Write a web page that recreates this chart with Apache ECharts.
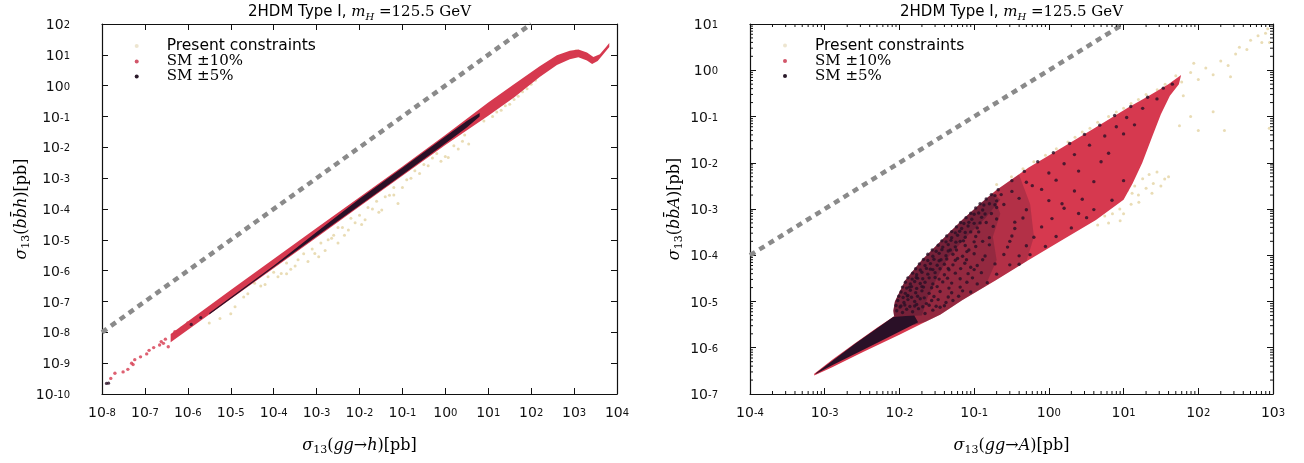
<!DOCTYPE html>
<html>
<head>
<meta charset="utf-8">
<title>2HDM Type I, bbh / bbA versus gluon fusion</title>
<script src="https://cdn.jsdelivr.net/npm/echarts@6.0.0/dist/echarts.min.js"></script>
<style>
  html, body { margin: 0; padding: 0; background: #fff; }
  #chart { width: 1304px; height: 463px; }
</style>
</head>
<body>
<div id="chart"></div>
<script>
// ---------- axis ranges ----------
const leftXRange = [1e-8, 1e4];
const leftYRange = [1e-10, 1e2];
const rightXRange = [1e-4, 1e3];
const rightYRange = [1e-7, 1e1];

const seriesNames = ['Present constraints', 'SM \u00b110%', 'SM \u00b15%'];

// ---------- left panel: sigma13(gg->h) vs sigma13(bbh) ----------
const hDiagonal = [[1e-8, 1e-8], [1e2, 1e2]];

// outline of the dense SM±10% band (upper edge, lower edge; left to right)
const hRedUpper = [[3.98e-7, 8.91e-9], [1e-5, 2.34e-7], [1e-4, 2.4e-6], [1e-3, 2.4e-5], [1e-2, 2.4e-4],
  [0.1, 2.4e-3], [1, 2.51e-2], [10, 0.282], [39.8, 1.12], [158, 4.27], [398, 9.77], [794, 13.5],
  [1259, 14.8], [1995, 12.0], [2818, 8.5], [3981, 10.5], [5623, 18.2], [6607, 24.0]];
const hRedLower = [[3.98e-7, 4.79e-9], [1e-5, 1.2e-7], [1e-4, 1.2e-6], [1e-3, 1.2e-5], [1e-2, 1.2e-4],
  [0.1, 1.2e-3], [1, 1.2e-2], [10, 0.105], [39.8, 0.417], [158, 1.91], [398, 4.68], [794, 7.24],
  [1259, 8.32], [1995, 6.61], [2630, 5.01], [3548, 6.31], [5012, 11.2], [6607, 17.8]];
// isolated SM±10% points at the low end
const hRedScatter = [[1.6e-8, 3.2e-10], [2.0e-8, 4.7e-10], [3.1e-8, 5.2e-10], [4.0e-8, 6.3e-10],
  [4.9e-8, 1.0e-9], [5.8e-8, 1.3e-9], [5.3e-8, 9.0e-10], [7.9e-8, 1.6e-9], [1.1e-7, 2.0e-9],
  [1.25e-7, 2.6e-9], [1.6e-7, 3.2e-9], [2.2e-7, 3.9e-9], [2.7e-7, 4.4e-9], [2.4e-7, 5.0e-9],
  [3.5e-7, 3.4e-9], [3.0e-7, 6.0e-9], [5.0e-7, 1.05e-8], [6.0e-7, 1.0e-8], [7.1e-7, 1.35e-8],
  [8.5e-7, 1.5e-8], [1.0e-6, 2.0e-8], [1.2e-6, 2.2e-8], [1.5e-6, 2.8e-8], [1.8e-6, 3.1e-8],
  [2.2e-6, 4.1e-8], [2.6e-6, 4.5e-8]];
// outline of the SM±5% core
const hDarkUpper = [[3.16e-6, 4.2e-8], [1e-4, 1.45e-6], [1e-3, 1.78e-5], [1e-2, 2.14e-4],
  [0.1, 2.19e-3], [1, 2.24e-2], [3.16, 7.2e-2], [6.3, 0.13]];
const hDarkLower = [[3.16e-6, 3.8e-8], [1e-4, 1.3e-6], [1e-3, 1.3e-5], [1e-2, 1.3e-4],
  [0.1, 1.3e-3], [1, 1.32e-2], [3.16, 4.4e-2], [6.3, 0.1]];
const hDarkScatter = [[1.27e-8, 2.2e-10], [1.42e-8, 2.25e-10], [1.2e-6, 1.8e-8], [2.0e-6, 3.0e-8]];
// points allowed by present constraints only
const hTan = [[3.16e-6, 2.0e-8], [5.6e-6, 2.8e-8], [1.0e-5, 4.0e-8], [1.26e-5, 6.8e-8], [2.0e-5, 1.4e-7],
  [3.6e-5, 3.9e-7], [5.0e-5, 3.2e-7], [7.4e-5, 6.3e-7], [1.0e-4, 8.9e-7], [1.5e-4, 8.1e-7],
  [2.0e-4, 1.78e-6], [2.5e-4, 1.12e-6], [3.7e-4, 2.24e-6], [5.0e-4, 3.55e-6], [6.3e-4, 2.0e-6],
  [9.1e-4, 3.6e-6], [1.26e-3, 7.9e-6], [1.58e-3, 4.5e-6], [1.86e-3, 1.0e-5], [2.5e-3, 1.4e-5],
  [3.16e-3, 7.9e-6], [4.0e-3, 2.5e-5], [5.5e-3, 2.1e-5], [7.9e-3, 3.55e-5], [1.0e-2, 6.3e-5],
  [1.35e-2, 4.5e-5], [2.0e-2, 1.0e-4], [2.5e-2, 1.78e-4], [3.3e-2, 9.3e-5], [5.0e-2, 2.8e-4],
  [6.3e-2, 5.0e-4], [7.9e-2, 1.5e-4], [0.126, 8.9e-4], [0.195, 1.74e-3], [0.316, 2.8e-3],
  [0.5, 4.5e-3], [0.79, 3.55e-3], [1.17, 4.7e-3], [2.0, 8.9e-3], [3.5, 1.29e-2],
  [2.5e-5, 1.78e-7], [6.3e-5, 3.55e-7], [1.26e-4, 6.3e-7], [3.16e-4, 1.41e-6], [7.9e-4, 5.0e-6],
  [1.12e-3, 2.82e-6], [2.24e-3, 1.12e-5], [4.47e-3, 1.41e-5], [6.3e-3, 5.0e-5], [1.12e-2, 3.16e-5],
  [1.58e-2, 1.12e-4], [2.82e-2, 7.9e-5], [3.98e-2, 2.51e-4], [0.1, 5.0e-4], [0.158, 1.0e-3],
  [0.251, 1.41e-3], [0.398, 2.51e-3], [0.631, 6.3e-3], [1.0, 5.0e-3], [1.58, 1.12e-2],
  [2.51, 1.58e-2], [2.82, 2.51e-2], [2.0e-4, 7.9e-7], [3.16e-3, 2.51e-5], [6.3e-2, 2.82e-4],
  [7.9, 0.071], [12.6, 0.1], [15.8, 0.141], [20, 0.158], [25, 0.224], [31.6, 0.25], [40, 0.355],
  [50, 0.45], [63, 0.63], [80, 0.8], [100, 1.12], [126, 1.5],
  [794, 10.5], [1000, 12.0], [1122, 9.5], [1413, 11.0], [891, 8.9], [1259, 12.6], [1100, 13.5], [950, 11.5]];

// ---------- right panel: sigma13(gg->A) vs sigma13(bbA) ----------
const aDiagonal = [[1e-4, 1e-4], [1e1, 1e1]];

// outline of the SM±10% region (tail, upper-left lobe, tip, lower edge)
const aRedOutline = [[7.24e-4, 2.75e-7], [1.26e-3, 5.5e-7], [2.57e-3, 1.26e-6], [5.0e-3, 2.69e-6],
  [8.5e-3, 4.8e-6], [8.3e-3, 6.3e-6], [8.7e-3, 1.0e-5], [1.0e-2, 1.58e-5], [1.2e-2, 2.88e-5],
  [1.58e-2, 5.0e-5], [2.0e-2, 7.9e-5], [3.7e-2, 2.14e-4], [6.9e-2, 5.75e-4], [0.126, 1.38e-3],
  [0.195, 2.5e-3], [0.537, 7.9e-3], [1.51, 2.14e-2], [4.27, 5.89e-2], [11.7, 0.158], [21.9, 0.282],
  [39.8, 0.5], [58.9, 0.794], [55, 0.5], [41.7, 0.282], [31.6, 0.112], [24, 3.55e-2], [17.8, 1.0e-2],
  [13.2, 3.55e-3], [10, 1.58e-3], [4.27, 5.75e-4], [1.51, 2.14e-4], [0.537, 7.9e-5], [0.195, 2.88e-5],
  [6.9e-2, 1.07e-5], [3.55e-2, 5.25e-6], [2.24e-2, 3.63e-6], [1.0e-2, 1.9e-6], [3.16e-3, 7.9e-7],
  [1.26e-3, 3.8e-7], [7.24e-4, 2.5e-7]];
// SM±5% tail, densely filled
const aDarkTail = [[7.6e-4, 2.82e-7], [2.57e-3, 1.23e-6], [8.3e-3, 4.68e-6], [1.58e-2, 5.0e-6],
  [1.78e-2, 3.55e-6], [5.0e-3, 1.26e-6], [1.26e-3, 4.17e-7], [7.6e-4, 2.69e-7]];
// SM±5% crowding in the lobe, from sparse (wide) to dense (along the upper-left edge)
const aLobeEdgeLeft = [[8.5e-3, 4.8e-6], [8.3e-3, 6.3e-6], [8.7e-3, 1.0e-5], [1.0e-2, 1.58e-5], [1.2e-2, 2.88e-5],
  [1.58e-2, 5.0e-5], [2.0e-2, 7.9e-5], [3.7e-2, 2.14e-4], [6.9e-2, 5.75e-4], [0.126, 1.38e-3]];
const aLobeLowerEdge = [[0.195, 2.88e-5], [6.9e-2, 1.07e-5], [3.55e-2, 5.25e-6], [2.24e-2, 3.63e-6], [1.58e-2, 3.16e-6]];
const aDarkWide = aLobeEdgeLeft.concat([[0.195, 2.5e-3], [0.398, 5.6e-3], [0.562, 1.26e-3], [0.631, 2.51e-4],
  [0.501, 7.4e-5], [0.195, 2.88e-5]], aLobeLowerEdge.slice(1));
const aDarkMid = aLobeEdgeLeft.concat([[0.178, 2.19e-3], [0.224, 7.9e-4], [0.178, 2.51e-4], [0.2, 7.9e-5],
  [0.141, 2.14e-5]], aLobeLowerEdge.slice(1));
const aDarkEdge = aLobeEdgeLeft.concat([[0.178, 2.19e-3], [0.224, 1.58e-3], [0.141, 6.3e-4], [7.9e-2, 2.5e-4],
  [4.47e-2, 8.9e-5], [3.16e-2, 3.16e-5], [2.4e-2, 1.26e-5], [2.0e-2, 5.0e-6]]);
// SM±5% points inside the lobe
const aDarkScatter = [
  [9.2e-3, 6.3e-6], [1.1e-2, 5.8e-6], [1.25e-2, 6.8e-6], [1.5e-2, 6.0e-6], [1.8e-2, 7.0e-6], [2.2e-2, 5.5e-6], [2.8e-2, 6.5e-6], [3.5e-2, 7.5e-6],
  [9.5e-3, 1.05e-5], [1.15e-2, 9.5e-6], [1.3e-2, 1.1e-5], [1.6e-2, 1.0e-5], [1.9e-2, 1.15e-5], [2.3e-2, 9.0e-6], [2.7e-2, 1.05e-5], [3.3e-2, 1.1e-5], [4.2e-2, 9.5e-6], [5.2e-2, 1.05e-5],
  [1.05e-2, 1.6e-5], [1.2e-2, 1.5e-5], [1.4e-2, 1.75e-5], [1.65e-2, 1.55e-5], [2.0e-2, 1.7e-5], [2.5e-2, 1.5e-5], [3.5e-2, 1.65e-5], [5.0e-2, 1.55e-5], [7.0e-2, 1.7e-5], [9.0e-2, 1.6e-5],
  [1.2e-2, 2.6e-5], [1.4e-2, 2.4e-5], [1.6e-2, 2.7e-5], [1.9e-2, 2.45e-5], [2.2e-2, 2.6e-5], [2.8e-2, 2.4e-5], [3.8e-2, 2.65e-5], [5.0e-2, 2.5e-5], [8.0e-2, 2.6e-5], [0.11, 2.4e-5], [0.15, 2.55e-5],
  [1.5e-2, 4.1e-5], [1.7e-2, 3.8e-5], [2.0e-2, 4.3e-5], [2.4e-2, 3.9e-5], [3.0e-2, 4.2e-5], [4.0e-2, 3.8e-5], [5.6e-2, 4.1e-5], [8.3e-2, 4.0e-5], [0.125, 4.2e-5], [0.2, 3.9e-5],
  [1.85e-2, 6.5e-5], [2.2e-2, 6.0e-5], [2.6e-2, 6.6e-5], [3.2e-2, 6.1e-5], [4.0e-2, 6.4e-5], [5.2e-2, 6.2e-5], [7.5e-2, 6.7e-5], [0.11, 6.0e-5], [0.19, 6.5e-5], [0.3, 6.2e-5], [0.4, 6.4e-5],
  [2.4e-2, 1.05e-4], [2.8e-2, 9.5e-5], [3.4e-2, 1.1e-4], [4.2e-2, 9.8e-5], [5.2e-2, 1.05e-4], [7.0e-2, 9.5e-5], [0.1, 1.08e-4], [0.14, 9.6e-5], [0.25, 1.04e-4], [0.4, 9.7e-5], [0.56, 1.03e-4],
  [3.3e-2, 1.65e-4], [3.8e-2, 1.5e-4], [4.5e-2, 1.7e-4], [5.6e-2, 1.52e-4], [7.6e-2, 1.62e-4], [0.105, 1.55e-4], [0.16, 1.68e-4], [0.28, 1.5e-4], [0.5, 1.6e-4], [0.9, 1.55e-4],
  [4.3e-2, 2.6e-4], [5.0e-2, 2.4e-4], [6.0e-2, 2.7e-4], [7.6e-2, 2.45e-4], [0.105, 2.55e-4], [0.16, 2.4e-4], [0.32, 2.6e-4], [0.63, 2.45e-4], [1.25, 2.55e-4],
  [5.8e-2, 4.1e-4], [6.8e-2, 3.8e-4], [8.3e-2, 4.3e-4], [0.11, 3.9e-4], [0.18, 4.2e-4], [0.35, 3.8e-4], [0.8, 4.1e-4], [2.0, 3.9e-4],
  [7.8e-2, 6.5e-4], [9.3e-2, 6.0e-4], [0.126, 6.6e-4], [0.2, 6.1e-4], [0.45, 6.4e-4], [1.1, 6.2e-4], [3.2, 6.5e-4],
  [0.105, 1.05e-3], [0.13, 9.5e-4], [0.2, 1.08e-3], [0.5, 9.6e-4], [1.6, 1.04e-3], [4.0, 9.7e-4],
  [0.145, 1.65e-3], [0.2, 1.5e-3], [0.4, 1.7e-3], [1.0, 1.52e-3], [2.8, 1.62e-3], [7.0, 1.55e-3],
  [0.21, 2.6e-3], [0.32, 2.4e-3], [0.8, 2.65e-3], [2.2, 2.45e-3],
  [0.32, 4.1e-3], [0.5, 3.8e-3], [1.25, 4.2e-3], [4.0, 3.9e-3], [10, 4.1e-3],
  [0.47, 6.5e-3], [1.0, 6.0e-3], [2.5, 6.6e-3],
  [0.71, 1.05e-2], [1.6, 9.5e-3], [5.0, 1.05e-2],
  [1.15, 1.65e-2], [2.2, 1.5e-2], [6.3, 1.6e-2],
  [1.9, 2.6e-2], [3.5, 2.4e-2],
  [3.0, 4.1e-2], [5.6, 3.8e-2], [10, 4.2e-2],
  [4.8, 6.5e-2], [8.0, 6.0e-2], [14, 6.6e-2],
  [7.6, 0.105], [11, 9.5e-2], [12.5, 0.165], [18, 0.15], [21, 0.26], [28, 0.24], [34, 0.41], [45, 0.5],
  [1.35e-2, 2.05e-5], [1.75e-2, 3.2e-5], [2.6e-2, 5.0e-5], [3.6e-2, 8.0e-5], [4.8e-2, 1.3e-4],
  [6.5e-2, 2.0e-4], [9.0e-2, 3.2e-4], [0.12, 5.0e-4], [0.17, 8.0e-4], [1.05e-2, 8.0e-6],
  [1.3e-2, 1.35e-5], [2.0e-2, 2.1e-5], [1.6e-2, 8.0e-6], [3.0e-2, 3.3e-5], [4.5e-2, 5.2e-5],
  [6.0e-2, 8.5e-5], [8.5e-2, 1.3e-4], [0.13, 2.0e-4], [0.09, 5.5e-5], [0.13, 8.0e-5], [0.3, 2.0e-4],
  [0.25, 1.25e-3], [0.6, 3.2e-3], [1.5, 1.3e-3], [0.35, 5.2e-4], [2.5, 8.0e-4],
  [9.0e-3, 8.2e-6], [1.02e-2, 7.6e-6], [1.18e-2, 8.4e-6], [1.38e-2, 7.8e-6], [1.7e-2, 8.6e-6], [2.05e-2, 7.7e-6], [2.5e-2, 8.3e-6], [3.1e-2, 7.9e-6], [4.0e-2, 8.1e-6],
  [9.8e-3, 1.3e-5], [1.12e-2, 1.22e-5], [1.27e-2, 1.32e-5], [1.45e-2, 1.24e-5], [1.75e-2, 1.3e-5], [2.15e-2, 1.2e-5], [2.9e-2, 1.28e-5], [4.5e-2, 1.25e-5], [6.2e-2, 1.3e-5],
  [1.1e-2, 2.05e-5], [1.25e-2, 1.95e-5], [1.45e-2, 2.1e-5], [1.7e-2, 1.92e-5], [2.1e-2, 2.05e-5], [2.7e-2, 1.98e-5], [3.2e-2, 2.1e-5], [4.6e-2, 1.95e-5], [6.5e-2, 2.05e-5],
  [1.3e-2, 3.25e-5], [1.48e-2, 3.05e-5], [1.68e-2, 3.3e-5], [2.05e-2, 3.1e-5], [2.5e-2, 3.25e-5], [3.4e-2, 3.05e-5], [4.4e-2, 3.2e-5], [6.5e-2, 3.1e-5], [9.5e-2, 3.25e-5],
  [1.65e-2, 5.1e-5], [1.9e-2, 4.8e-5], [2.3e-2, 5.2e-5], [2.8e-2, 4.9e-5], [3.5e-2, 5.1e-5], [4.6e-2, 4.85e-5], [6.6e-2, 5.15e-5], [0.1, 4.9e-5],
  [2.1e-2, 8.1e-5], [2.4e-2, 7.7e-5], [2.9e-2, 8.2e-5], [3.4e-2, 7.6e-5], [4.3e-2, 8.3e-5], [5.6e-2, 7.8e-5], [7.9e-2, 8.0e-5],
  [2.75e-2, 1.3e-4], [3.1e-2, 1.22e-4], [3.7e-2, 1.32e-4], [4.5e-2, 1.24e-4], [5.8e-2, 1.3e-4], [8.0e-2, 1.2e-4],
  [3.7e-2, 2.05e-4], [4.2e-2, 1.95e-4], [4.9e-2, 2.1e-4], [5.7e-2, 1.92e-4], [7.2e-2, 2.05e-4], [0.1, 1.95e-4],
  [5.0e-2, 3.25e-4], [5.6e-2, 3.05e-4], [6.4e-2, 3.3e-4], [7.6e-2, 3.1e-4], [0.115, 3.2e-4],
  [6.6e-2, 5.1e-4], [7.3e-2, 4.85e-4], [8.5e-2, 5.15e-4], [0.1, 4.9e-4], [0.145, 5.1e-4],
  [9.0e-2, 8.1e-4], [0.1, 7.7e-4], [0.115, 8.2e-4], [0.14, 7.8e-4],
  [0.12, 1.3e-3], [0.135, 1.22e-3], [0.16, 1.3e-3], [0.19, 1.24e-3],
  [0.17, 2.05e-3], [0.19, 1.95e-3], [0.23, 2.05e-3]];
// points allowed by present constraints only
const aTan = [[0.316, 5.0e-3], [0.63, 1.05e-2], [1.26, 2.0e-2], [2.24, 3.55e-2], [3.55, 5.6e-2],
  [6.3, 0.1], [10, 0.151], [15.8, 0.234], [28.2, 0.38], [50, 0.76], [0.2, 3.4e-3], [0.45, 7.4e-3],
  [0.9, 1.45e-2], [1.8, 2.8e-2], [2.8, 4.6e-2], [4.5, 7.5e-2], [8, 0.125], [12.6, 0.19], [20, 0.3], [36, 0.5],
  [11.2, 2.5e-3], [14.1, 3.16e-3], [15.8, 2.0e-3], [20, 2.82e-3], [25, 3.55e-3], [31.6, 3.16e-3],
  [35.5, 4.47e-3], [12.6, 1.26e-3], [8.9, 1.0e-3], [7.1, 7.9e-4], [5.6, 7.1e-4], [10, 7.9e-4],
  [18, 4.5e-3], [22, 5.6e-3], [28, 6.3e-3], [40, 5.0e-3], [16, 1.4e-3], [6.3, 5.0e-4], [4.5, 4.5e-4],
  [9, 5.6e-4], [13, 2.2e-3], [24, 2.2e-3],
  [100, 0.63], [126, 1.12], [158, 0.8], [200, 1.58], [251, 1.26], [316, 2.24], [355, 3.16], [447, 2.82],
  [501, 4.47], [631, 5.6], [708, 3.98], [794, 6.3], [87, 1.41], [270, 0.72], [60, 0.56], [79, 0.89],
  [79, 0.1], [100, 0.05], [224, 0.05], [891, 0.056], [56, 0.063], [158, 0.126], [63, 0.28], [850, 7.9], [900, 4.0]];

// ---------- styling ----------
const C = { tan: '#e4d3a3', red: '#d6394f', dark: '#2a1027', diag: '#8a8a8a', ink: '#111' };
const FRAME = { left: [102, 24, 515, 370], right: [750, 24, 523, 370] };

const tickRich = {
  b: { fontFamily: 'DejaVu Sans', fontSize: 14, lineHeight: 17, verticalAlign: 'bottom', color: C.ink },
  s: { fontFamily: 'DejaVu Sans', fontSize: 10, lineHeight: 11, padding: [5, 0, 9, 0], verticalAlign: 'top', color: C.ink }
};
const mathRich = {
  i: { fontFamily: 'DejaVu Serif', fontStyle: 'italic', fontSize: 16, lineHeight: 20, color: '#000' },
  r: { fontFamily: 'DejaVu Serif', fontSize: 16, lineHeight: 20, color: '#000' },
  sub: { fontFamily: 'DejaVu Serif', fontSize: 11, lineHeight: 12, verticalAlign: 'bottom', color: '#000' }
};
const powLabel = v => '{b|10}{s|' + Math.round(Math.log10(v)) + '}';

function xAxisCfg(grid, range, position, labels, name) {
  return {
    type: 'log', logBase: 10, gridIndex: grid, min: range[0], max: range[1], interval: 1, position,
    axisLine: { show: true, onZero: false, lineStyle: { color: C.ink, width: 1.2 } },
    axisTick: { show: true, inside: true, length: 6, lineStyle: { color: C.ink, width: 1 } },
    axisLabel: { show: labels, margin: 9, formatter: powLabel, rich: tickRich },
    splitLine: { show: false }, minorTick: { show: false },
    name: name || '', nameLocation: 'middle', nameGap: 42, nameTextStyle: { rich: mathRich }
  };
}
function yAxisCfg(grid, range, position, labels, name, gap) {
  return {
    type: 'log', logBase: 10, gridIndex: grid, min: range[0], max: range[1], interval: 1, position,
    axisLine: { show: true, onZero: false, lineStyle: { color: C.ink, width: 1.2 } },
    axisTick: { show: true, inside: true, length: 6, lineStyle: { color: C.ink, width: 1 } },
    axisLabel: { show: labels, margin: 32, formatter: powLabel, rich: tickRich },
    splitLine: { show: false }, minorTick: { show: false },
    name: name || '', nameLocation: 'middle', nameGap: gap || 0, nameRotate: 90, nameTextStyle: { rich: mathRich }
  };
}

// filled outline drawn through the axis scales
function regionSeries(name, outline, color, axis, z, opacity) {
  return {
    name, type: 'custom', coordinateSystem: 'cartesian2d', xAxisIndex: axis, yAxisIndex: axis,
    z, silent: true, data: outline, encode: { x: 0, y: 1 },
    renderItem(params, api) {
      if (params.dataIndex !== 0) return null;
      return { type: 'polygon', shape: { points: outline.map(p => api.coord(p)) },
        style: { fill: color, opacity: opacity == null ? 1 : opacity } };
    }
  };
}
function dotSeries(name, data, color, axis, size, z) {
  return { name, type: 'scatter', xAxisIndex: axis, yAxisIndex: axis, data, z, symbol: 'circle',
    symbolSize: size, itemStyle: { color }, silent: true };
}
function diagonalSeries(data, axis) {
  return { name: 'y = x', type: 'line', xAxisIndex: axis, yAxisIndex: axis, data, z: 5, symbol: 'none',
    silent: true, lineStyle: { color: C.diag, width: 4.5, type: [6, 5], cap: 'butt' } };
}
// logarithmic minor ticks (2..9 per decade), mirrored on both sides of the frame
function decadeMinors(range) {
  const out = [];
  for (let e = Math.round(Math.log10(range[0])); e < Math.round(Math.log10(range[1])); e++)
    for (let k = 2; k <= 9; k++) out.push(k * Math.pow(10, e));
  return out;
}
function minorTickSeries(axis, dir, values, other) {
  return {
    type: 'custom', coordinateSystem: 'cartesian2d', xAxisIndex: axis, yAxisIndex: axis, z: 6, silent: true,
    data: values.map(v => dir === 'x' ? [v, other[0]] : [other[0], v]),
    renderItem(params, api) {
      const v = api.value(dir === 'x' ? 0 : 1);
      const a = api.coord(dir === 'x' ? [v, other[0]] : [other[0], v]);
      const b = api.coord(dir === 'x' ? [v, other[1]] : [other[1], v]);
      const L = 3;
      const segs = dir === 'x'
        ? [[a[0], a[1], a[0], a[1] - L], [b[0], b[1], b[0], b[1] + L]]
        : [[a[0], a[1], a[0] + L, a[1]], [b[0], b[1], b[0] - L, b[1]]];
      return { type: 'group', children: segs.map(s => ({ type: 'line',
        shape: { x1: s[0], y1: s[1], x2: s[2], y2: s[3] }, style: { stroke: C.ink, lineWidth: 1 } })) };
    }
  };
}

const legendRich = {
  p: { fontFamily: 'DejaVu Sans', fontSize: 15.5, lineHeight: 24, color: '#000', padding: [0, 0, 0, 23] },
  m: { fontFamily: 'DejaVu Serif', fontSize: 15, lineHeight: 24, color: '#000', padding: [0, 0, 0, 23] }
};
function legendCfg(left, top) {
  return {
    orient: 'vertical', left, top, itemGap: 0, itemWidth: 4, itemHeight: 4, selectedMode: false,
    data: [
      { name: seriesNames[0], icon: 'circle', itemStyle: { color: '#e9dfc4' } },
      { name: seriesNames[1], icon: 'circle', itemStyle: { color: '#d2566a' } },
      { name: seriesNames[2], icon: 'circle', itemStyle: { color: '#2a1a2a' } }
    ],
    formatter: n => (n === seriesNames[0] ? '{p|' : '{m|') + n + '}',
    textStyle: { rich: legendRich }
  };
}
const titleText = '{s|2HDM Type I, }{m|m}{h|H}{t| =125.5 GeV}';
const titleRich = {
  s: { fontFamily: 'DejaVu Sans', fontSize: 15, lineHeight: 20, fill: '#000' },
  m: { fontFamily: 'DejaVu Serif', fontStyle: 'italic', fontSize: 15, lineHeight: 20, fill: '#000' },
  h: { fontFamily: 'DejaVu Serif', fontStyle: 'italic', fontSize: 10, lineHeight: 11, verticalAlign: 'bottom', fill: '#000' },
  t: { fontFamily: 'DejaVu Serif', fontSize: 15, lineHeight: 20, fill: '#000' }
};
function titleEl(cx) {
  return { type: 'text', x: cx, y: 12, silent: true,
    style: { text: titleText, align: 'center', verticalAlign: 'middle', rich: titleRich } };
}

const option = {
  animation: false,
  backgroundColor: '#fff',
  grid: [
    { left: FRAME.left[0], top: FRAME.left[1], width: FRAME.left[2], height: FRAME.left[3] },
    { left: FRAME.right[0], top: FRAME.right[1], width: FRAME.right[2], height: FRAME.right[3] }
  ],
  xAxis: [
    xAxisCfg(0, leftXRange, 'bottom', true, '{i|\u03c3}{sub|13}{r|(}{i|gg}{r|\u2192}{i|h}{r|)[pb]}'),
    xAxisCfg(1, rightXRange, 'bottom', true, '{i|\u03c3}{sub|13}{r|(}{i|gg}{r|\u2192}{i|A}{r|)[pb]}'),
    xAxisCfg(0, leftXRange, 'top', false),
    xAxisCfg(1, rightXRange, 'top', false)
  ],
  yAxis: [
    yAxisCfg(0, leftYRange, 'left', true, '{i|\u03c3}{sub|13}{r|(}{i|bb\u0304h}{r|)[pb]}', 69),
    yAxisCfg(1, rightYRange, 'left', true, '{i|\u03c3}{sub|13}{r|(}{i|bb\u0304A}{r|)[pb]}', 65),
    yAxisCfg(0, leftYRange, 'right', false),
    yAxisCfg(1, rightYRange, 'right', false)
  ],
  legend: [legendCfg(129.7, 33), legendCfg(778, 32.5)],
  graphic: [titleEl(FRAME.left[0] + FRAME.left[2] / 2), titleEl(FRAME.right[0] + FRAME.right[2] / 2)],
  series: [
    // left panel
    dotSeries(seriesNames[0], hTan, C.tan, 0, 3, 1),
    regionSeries(seriesNames[1], hRedUpper.concat(hRedLower.slice().reverse()), C.red, 0, 2),
    dotSeries(seriesNames[1], hRedScatter, C.red, 0, 3.4, 2),
    regionSeries(seriesNames[2], hDarkUpper.concat(hDarkLower.slice().reverse()), C.dark, 0, 3),
    dotSeries(seriesNames[2], hDarkScatter, C.dark, 0, 3.2, 3),
    diagonalSeries(hDiagonal, 0),
    // right panel
    dotSeries(seriesNames[0], aTan, C.tan, 1, 3, 1),
    regionSeries(seriesNames[1], aRedOutline, C.red, 1, 2),
    regionSeries(seriesNames[2], aDarkWide, C.dark, 1, 3, 0.2),
    regionSeries(seriesNames[2], aDarkMid, C.dark, 1, 3, 0.22),
    regionSeries(seriesNames[2], aDarkEdge, C.dark, 1, 3, 0.28),
    regionSeries(seriesNames[2], aDarkTail, C.dark, 1, 3),
    dotSeries(seriesNames[2], aDarkScatter, C.dark, 1, 3.4, 4),
    diagonalSeries(aDiagonal, 1),
    minorTickSeries(1, 'x', decadeMinors(rightXRange), rightYRange),
    minorTickSeries(1, 'y', decadeMinors(rightYRange), rightXRange)
  ]
};

const chart = echarts.init(document.getElementById('chart'), null, { renderer: 'canvas' });
chart.setOption(option);
</script>
</body>
</html>
